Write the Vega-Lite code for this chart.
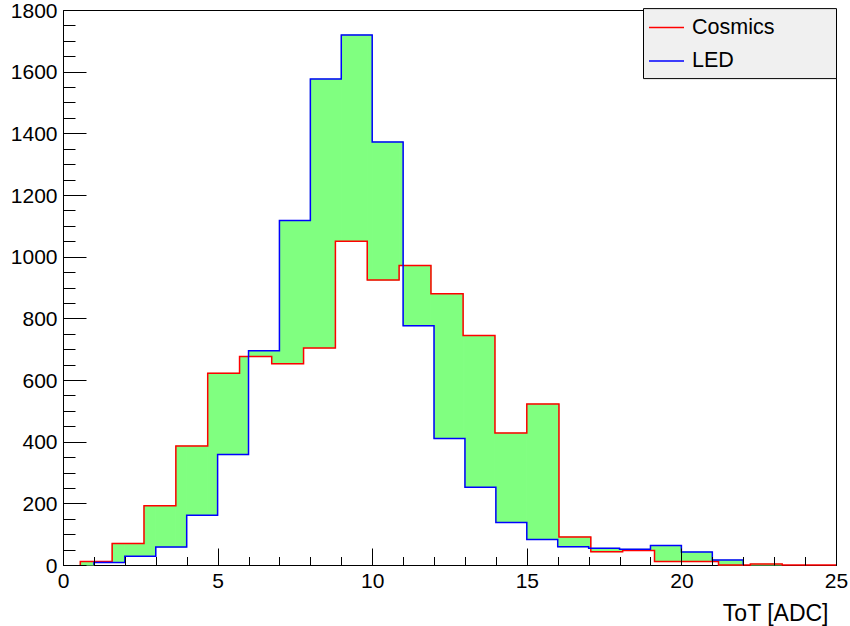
{
  "$schema": "https://vega.github.io/schema/vega-lite/v6.json",
  "width": 773,
  "height": 555,
  "autosize": {"type": "none"},
  "padding": {"left": 63, "top": 10, "right": 14, "bottom": 61},
  "background": "white",
  "config": {"view": {"stroke": "#000000", "strokeWidth": 1}, "font": "Liberation Sans"},
  "datasets": {
    "fill": [
      {"x": 0.56, "x2": 1, "cosmics": 11, "led": 0},
      {"x": 1, "x2": 1.59, "cosmics": 11, "led": 8},
      {"x": 1.59, "x2": 2, "cosmics": 70, "led": 8},
      {"x": 2, "x2": 2.62, "cosmics": 70, "led": 28},
      {"x": 2.62, "x2": 3, "cosmics": 192, "led": 28},
      {"x": 3, "x2": 3.65, "cosmics": 192, "led": 58},
      {"x": 3.65, "x2": 4, "cosmics": 386, "led": 58},
      {"x": 4, "x2": 4.68, "cosmics": 386, "led": 161},
      {"x": 4.68, "x2": 5, "cosmics": 622, "led": 161},
      {"x": 5, "x2": 5.71, "cosmics": 622, "led": 358},
      {"x": 5.71, "x2": 6, "cosmics": 676, "led": 358},
      {"x": 6, "x2": 6.75, "cosmics": 676, "led": 695},
      {"x": 6.75, "x2": 7, "cosmics": 653, "led": 695},
      {"x": 7, "x2": 7.78, "cosmics": 653, "led": 1117},
      {"x": 7.78, "x2": 8, "cosmics": 704, "led": 1117},
      {"x": 8, "x2": 8.81, "cosmics": 704, "led": 1576},
      {"x": 8.81, "x2": 9, "cosmics": 1050, "led": 1576},
      {"x": 9, "x2": 9.84, "cosmics": 1050, "led": 1719},
      {"x": 9.84, "x2": 10, "cosmics": 924, "led": 1719},
      {"x": 10, "x2": 10.87, "cosmics": 924, "led": 1372},
      {"x": 10.87, "x2": 11, "cosmics": 971, "led": 1372},
      {"x": 11, "x2": 11.9, "cosmics": 971, "led": 776},
      {"x": 11.9, "x2": 12, "cosmics": 880, "led": 776},
      {"x": 12, "x2": 12.94, "cosmics": 880, "led": 410},
      {"x": 12.94, "x2": 13, "cosmics": 744, "led": 410},
      {"x": 13, "x2": 13.97, "cosmics": 744, "led": 252},
      {"x": 13.97, "x2": 14, "cosmics": 428, "led": 252},
      {"x": 14, "x2": 15, "cosmics": 428, "led": 138},
      {"x": 15, "x2": 16, "cosmics": 522, "led": 83},
      {"x": 16, "x2": 16.04, "cosmics": 522, "led": 59},
      {"x": 16.04, "x2": 17, "cosmics": 91, "led": 59},
      {"x": 17, "x2": 17.07, "cosmics": 91, "led": 54},
      {"x": 17.07, "x2": 18, "cosmics": 43, "led": 54},
      {"x": 18, "x2": 18.1, "cosmics": 43, "led": 51},
      {"x": 18.1, "x2": 19, "cosmics": 47, "led": 51},
      {"x": 19, "x2": 19.13, "cosmics": 47, "led": 63},
      {"x": 19.13, "x2": 20, "cosmics": 11, "led": 63},
      {"x": 20, "x2": 21, "cosmics": 11, "led": 42},
      {"x": 21, "x2": 21.2, "cosmics": 11, "led": 16},
      {"x": 21.2, "x2": 22, "cosmics": 0, "led": 16},
      {"x": 22.23, "x2": 23.26, "cosmics": 3, "led": 0}
    ],
    "hist": [
      {"series": "Cosmics", "i": 0, "x": 0.56, "count": 0},
      {"series": "Cosmics", "i": 1, "x": 0.56, "count": 11},
      {"series": "Cosmics", "i": 2, "x": 1.59, "count": 70},
      {"series": "Cosmics", "i": 3, "x": 2.62, "count": 192},
      {"series": "Cosmics", "i": 4, "x": 3.65, "count": 386},
      {"series": "Cosmics", "i": 5, "x": 4.68, "count": 622},
      {"series": "Cosmics", "i": 6, "x": 5.71, "count": 676},
      {"series": "Cosmics", "i": 7, "x": 6.75, "count": 653},
      {"series": "Cosmics", "i": 8, "x": 7.78, "count": 704},
      {"series": "Cosmics", "i": 9, "x": 8.81, "count": 1050},
      {"series": "Cosmics", "i": 10, "x": 9.84, "count": 924},
      {"series": "Cosmics", "i": 11, "x": 10.87, "count": 971},
      {"series": "Cosmics", "i": 12, "x": 11.9, "count": 880},
      {"series": "Cosmics", "i": 13, "x": 12.94, "count": 744},
      {"series": "Cosmics", "i": 14, "x": 13.97, "count": 428},
      {"series": "Cosmics", "i": 15, "x": 15.0, "count": 522},
      {"series": "Cosmics", "i": 16, "x": 16.04, "count": 91},
      {"series": "Cosmics", "i": 17, "x": 17.07, "count": 43},
      {"series": "Cosmics", "i": 18, "x": 18.1, "count": 47},
      {"series": "Cosmics", "i": 19, "x": 19.13, "count": 11},
      {"series": "Cosmics", "i": 20, "x": 20.16, "count": 11},
      {"series": "Cosmics", "i": 21, "x": 21.2, "count": 0},
      {"series": "Cosmics", "i": 22, "x": 22.23, "count": 3},
      {"series": "Cosmics", "i": 23, "x": 23.26, "count": 0},
      {"series": "Cosmics", "i": 24, "x": 25, "count": 0},
      {"series": "LED", "i": 0, "x": 1, "count": 0},
      {"series": "LED", "i": 1, "x": 1, "count": 8},
      {"series": "LED", "i": 2, "x": 2, "count": 28},
      {"series": "LED", "i": 3, "x": 3, "count": 58},
      {"series": "LED", "i": 4, "x": 4, "count": 161},
      {"series": "LED", "i": 5, "x": 5, "count": 358},
      {"series": "LED", "i": 6, "x": 6, "count": 695},
      {"series": "LED", "i": 7, "x": 7, "count": 1117},
      {"series": "LED", "i": 8, "x": 8, "count": 1576},
      {"series": "LED", "i": 9, "x": 9, "count": 1719},
      {"series": "LED", "i": 10, "x": 10, "count": 1372},
      {"series": "LED", "i": 11, "x": 11, "count": 776},
      {"series": "LED", "i": 12, "x": 12, "count": 410},
      {"series": "LED", "i": 13, "x": 13, "count": 252},
      {"series": "LED", "i": 14, "x": 14, "count": 138},
      {"series": "LED", "i": 15, "x": 15, "count": 83},
      {"series": "LED", "i": 16, "x": 16, "count": 59},
      {"series": "LED", "i": 17, "x": 17, "count": 54},
      {"series": "LED", "i": 18, "x": 18, "count": 51},
      {"series": "LED", "i": 19, "x": 19, "count": 63},
      {"series": "LED", "i": 20, "x": 20, "count": 42},
      {"series": "LED", "i": 21, "x": 21, "count": 16},
      {"series": "LED", "i": 22, "x": 22, "count": 0}
    ]
  },
  "layer": [
    {
      "data": {"name": "fill"},
      "mark": {"type": "rect", "fill": "#80ff80", "stroke": "#80ff80", "strokeWidth": 1},
      "encoding": {
        "x": {
          "field": "x", "type": "quantitative",
          "scale": {"domain": [0, 25], "nice": false, "zero": false},
          "axis": {
            "orient": "bottom", "values": [0, 5, 10, 15, 20, 25], "format": "d",
            "tickSize": -17, "tickColor": "#000000", "tickWidth": 1,
            "domain": false, "grid": false, "zindex": 1,
            "labelFont": "Liberation Sans", "labelFontSize": 21, "labelColor": "#000000",
            "labelPadding": 22.4, "labelFlush": false, "labelOverlap": false, "labelBaseline": "top",
            "title": "ToT [ADC]", "titleFont": "Liberation Sans", "titleFontSize": 23,
            "titleFontWeight": "normal", "titleColor": "#000000",
            "titleAlign": "right", "titleBaseline": "alphabetic", "titleX": 765, "titleY": 55
          }
        },
        "x2": {"field": "x2"},
        "y": {
          "field": "cosmics", "type": "quantitative",
          "scale": {"domain": [0, 1800], "nice": false},
          "axis": {
            "orient": "left", "values": [0, 200, 400, 600, 800, 1000, 1200, 1400, 1600, 1800], "format": "d",
            "tickSize": -23, "tickColor": "#000000", "tickWidth": 1,
            "domain": false, "grid": false, "zindex": 1,
            "labelFont": "Liberation Sans", "labelFontSize": 21, "labelColor": "#000000",
            "labelPadding": 29, "labelFlush": false, "labelOverlap": false,
            "labelBaseline": "middle", "labelAlign": "right", "labelOffset": 1,
            "title": null
          }
        },
        "y2": {"field": "led"}
      }
    },
    {
      "data": {"name": "hist"},
      "mark": {"type": "line", "interpolate": "step-after", "strokeWidth": 1.5},
      "encoding": {
        "x": {
          "field": "x", "type": "quantitative",
          "axis": {
            "orient": "bottom", "values": [0, 1, 2, 3, 4, 5, 6, 7, 8, 9, 10, 11, 12, 13, 14, 15, 16, 17, 18, 19, 20, 21, 22, 23, 24, 25],
            "tickSize": -8.5, "tickColor": "#000000", "tickWidth": 1,
            "labels": false, "domain": false, "grid": false, "title": null, "zindex": 1
          }
        },
        "y": {
          "field": "count", "type": "quantitative",
          "axis": {
            "orient": "left", "values": [0, 50, 100, 150, 200, 250, 300, 350, 400, 450, 500, 550, 600, 650, 700, 750, 800, 850, 900, 950, 1000, 1050, 1100, 1150, 1200, 1250, 1300, 1350, 1400, 1450, 1500, 1550, 1600, 1650, 1700, 1750, 1800],
            "tickSize": -12, "tickColor": "#000000", "tickWidth": 1,
            "labels": false, "domain": false, "grid": false, "title": null, "zindex": 1
          }
        },
        "order": {"field": "i", "type": "quantitative"},
        "color": {
          "field": "series", "type": "nominal",
          "scale": {"domain": ["Cosmics", "LED"], "range": ["#ff0000", "#0000ff"]},
          "legend": {
            "orient": "none", "legendX": 580, "legendY": -1.9,
            "title": " ", "titleOrient": "right", "titlePadding": 60.3,
            "titleFontSize": 36.5, "titleBaseline": "top",
            "fillColor": "#f0f0f0", "strokeColor": "#000000", "padding": 1,
            "symbolType": "stroke", "symbolSize": 1225, "symbolStrokeWidth": 1.5, "symbolOffset": 4,
            "labelOffset": 7, "labelFont": "Liberation Sans", "labelFontSize": 21.5, "labelColor": "#000000",
            "rowPadding": 4.4
          }
        }
      }
    }
  ],
  "resolve": {"axis": {"x": "independent", "y": "independent"}}
}
